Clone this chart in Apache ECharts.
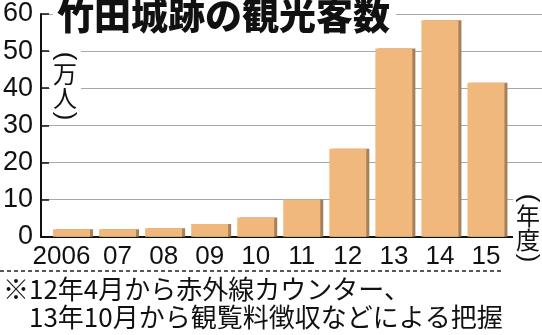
<!DOCTYPE html>
<html>
<head>
<meta charset="utf-8">
<script src="https://cdn.jsdelivr.net/npm/echarts@6/dist/echarts.min.js"></script>
<style>html,body{margin:0;padding:0;background:#fff}#c{width:542px;height:335px}</style>
</head>
<body>
<div id="c"></div>
<script>
const categories = ['2006', '07', '08', '09', '10', '11', '12', '13', '14', '15'];
const visitors = [2.0, 2.0, 2.3, 3.4, 5.2, 10.0, 23.7, 50.7, 58.3, 41.5];
const yTicks = [0, 10, 20, 30, 40, 50, 60];
const titleText = '竹田城跡の観光客数';
const yUnit = ['万', '人'];
const xUnit = ['年', '度'];
const noteLines = ['※12年4月から赤外線カウンター、', '　13年10月から観覧料徴収などによる把握'];

const chart = echarts.init(document.getElementById('c'), null, {renderer: 'canvas'});
const numFont = "'Liberation Sans', Arial, sans-serif";
const cjkFont = "'Noto Sans CJK JP', sans-serif";
const TOP = 14, BOTTOM = 98.3;

function verticalUnit(chars, cx, top) {
  // white box, rotated parentheses, stacked characters
  const els = [];
  const h = chars.length * 24 + 20;
  els.push({type: 'rect', z: 99, shape: {x: cx - 15, y: top - 4, width: 31, height: h + 8}, style: {fill: '#fff'}});
  els.push({type: 'text', z: 100, x: cx, y: top + 4, rotation: -Math.PI / 2,
    style: {text: '(', fontFamily: numFont, fontSize: 26, fill: '#111', align: 'center', verticalAlign: 'middle'}});
  chars.forEach((ch, i) => {
    els.push({type: 'text', z: 100, x: cx, y: top + 22 + i * 24,
      style: {text: ch, fontFamily: cjkFont, fontSize: 24, fill: '#111', align: 'center', verticalAlign: 'middle'}});
  });
  els.push({type: 'text', z: 100, x: cx, y: top + h - 4, rotation: -Math.PI / 2,
    style: {text: ')', fontFamily: numFont, fontSize: 26, fill: '#111', align: 'center', verticalAlign: 'middle'}});
  return els;
}

chart.setOption({
  animation: false,
  backgroundColor: '#fff',
  title: {
    text: titleText,
    left: 53, top: -3,
    padding: [0, 6, 2, 4],
    backgroundColor: '#fff',
    textStyle: {fontFamily: cjkFont, fontWeight: 900, fontSize: 37, color: '#111'}
  },
  grid: [
    {left: 40, right: 0, top: TOP, bottom: BOTTOM},
    {left: 48.5, right: 33, top: TOP, bottom: BOTTOM}
  ],
  xAxis: [
    {gridIndex: 0, type: 'value', min: 0, max: 1,
     axisLine: {show: true, onZero: false, lineStyle: {color: '#111', width: 2}},
     axisTick: {show: false}, axisLabel: {show: false}, splitLine: {show: false}},
    {gridIndex: 1, type: 'category', data: categories.map((c, i) => i === 0 ? {value: c, textStyle: {padding: [0, 20, 0, 0]}} : c),
     axisLine: {show: false}, axisTick: {show: false},
     axisLabel: {interval: 0, hideOverlap: false, margin: 7, fontFamily: numFont, fontSize: 26, color: '#111'}}
  ],
  yAxis: [
    {gridIndex: 0, type: 'value', min: yTicks[0], max: yTicks[yTicks.length - 1], interval: yTicks[1] - yTicks[0],
     axisLine: {show: true, lineStyle: {color: '#111', width: 2}},
     axisTick: {show: true, inside: true, length: 8, lineStyle: {color: '#111', width: 1.5}},
     axisLabel: {margin: 8, fontFamily: numFont, fontSize: 27, color: '#111'},
     splitLine: {show: true, lineStyle: {color: '#a8a8a8', width: 1.2}}},
    {gridIndex: 1, type: 'value', min: yTicks[0], max: yTicks[yTicks.length - 1], show: false}
  ],
  series: [{
    type: 'bar', xAxisIndex: 1, yAxisIndex: 1,
    data: visitors, barWidth: 37,
    itemStyle: {color: '#f0b87c', shadowColor: '#a58058', shadowOffsetX: 3, shadowOffsetY: 0, shadowBlur: 0}
  }],
  graphic: [
    ...verticalUnit(yUnit, 65, 52),
    ...verticalUnit(xUnit, 528, 194),
    {type: 'line', z: 101, shape: {x1: 0, y1: 271, x2: 504, y2: 271},
     style: {stroke: '#222', lineWidth: 1.5, lineDash: [4, 3]}},
    {type: 'text', left: 3, top: 275, z: 100,
     style: {text: noteLines.join('\n'), fontFamily: cjkFont, fontSize: 26, lineHeight: 28, fill: '#111'}}
  ]
});
</script>
</body>
</html>
